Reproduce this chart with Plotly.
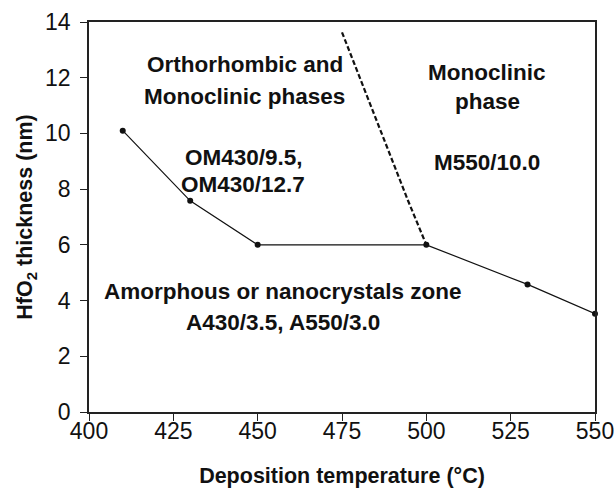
import plotly.graph_objects as go

# Data
temperature = [410, 430, 450, 500, 530, 550]
thickness = [10.1, 7.58, 6.0, 6.0, 4.58, 3.53]

boundary_temp = [475, 494.5, 500]
boundary_thick = [13.63, 7.61, 6.0]

x_ticks = [400, 425, 450, 475, 500, 525, 550]
y_ticks = [0, 2, 4, 6, 8, 10, 12, 14]

labels_text = ["Orthorhombic and", "Monoclinic phases", "OM430/9.5,", "OM430/12.7",
               "Amorphous or nanocrystals zone", "A430/3.5, A550/3.0",
               "Monoclinic", "phase", "M550/10.0"]
labels_x = [446.3, 446.2, 445.9, 445.7, 457.5, 457.5, 518.0, 518.0, 518.1]
labels_y = [12.46, 11.31, 9.12, 8.15, 4.31, 3.23, 12.2, 11.13, 8.94]

FONT = "Liberation Sans, Arial, sans-serif"
INK = "#111111"

fig = go.Figure()
fig.add_trace(go.Scatter(
    x=boundary_temp, y=boundary_thick, mode="lines",
    line=dict(color=INK, width=2.2, dash="5px,2.5px"),
    showlegend=False, hoverinfo="skip"))
fig.add_trace(go.Scatter(
    x=temperature, y=thickness, mode="lines+markers",
    line=dict(color=INK, width=1.2),
    marker=dict(color=INK, size=6),
    showlegend=False, cliponaxis=False))

for t, x, y in zip(labels_text, labels_x, labels_y):
    fig.add_annotation(x=x, y=y, xref="x", yref="y", text=t, showarrow=False,
                       font=dict(family=FONT, size=22.5, color=INK, weight="bold"),
                       xanchor="center", yanchor="middle")

axis_common = dict(showline=True, mirror=True, linecolor="#222222", linewidth=1.6,
                   ticks="outside", ticklen=7, tickwidth=1.4, tickcolor="#222222",
                   showgrid=False, zeroline=False, automargin=False,
                   ticklabeloverflow="allow",
                   tickfont=dict(family=FONT, size=23, color=INK))

fig.update_xaxes(range=[400, 550], tickvals=x_ticks, ticktext=[str(v) for v in x_ticks],
                 ticklabelstandoff=-9,
                 title=dict(text="<b>Deposition temperature (°C)</b>",
                            font=dict(family=FONT, size=21.5, color=INK), standoff=32),
                 **axis_common)
fig.update_yaxes(range=[0, 14], tickvals=y_ticks, ticktext=[str(v) for v in y_ticks],
                 ticklabelstandoff=5,
                 title=dict(text="<b>HfO<sub>2</sub> thickness (nm)</b>",
                            font=dict(family=FONT, size=21.5, color=INK), standoff=6),
                 **axis_common)

fig.update_layout(width=614, height=488,
                  margin=dict(l=89, r=19, t=22, b=76),
                  plot_bgcolor="white", paper_bgcolor="white")

# remove the page's default body margin so the figure fills the window exactly
fig.write_html("out.html",
               config={"displayModeBar": False},
               post_script="document.body.style.margin='0';"
                           "document.body.style.overflow='hidden';")
